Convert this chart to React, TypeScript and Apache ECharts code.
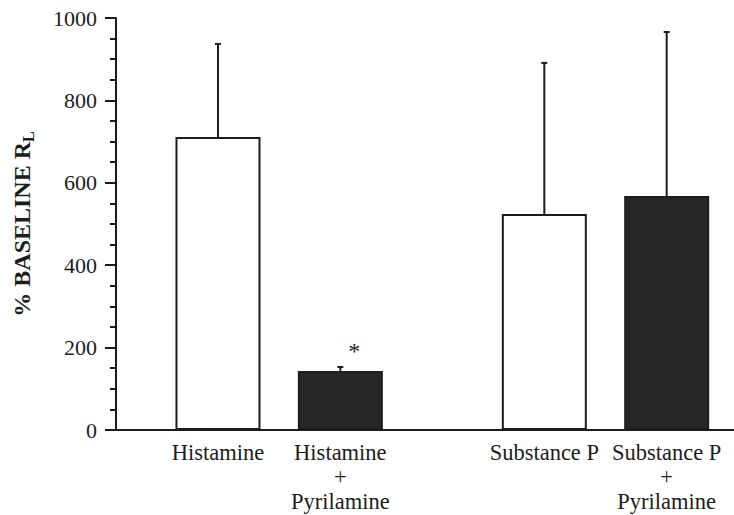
import React, { useEffect, useRef } from "react";
import * as echarts from "echarts";

// Treatment groups and their axis labels
const categories = [
  "Histamine",
  "Histamine\n+\nPyrilamine",
  "Substance P",
  "Substance P\n+\nPyrilamine",
];
// Slot of each bar along the x scale (pairs grouped, wider gap between agonists)
const slots = [0, 3, 8, 11];
// Mean response, % of baseline lung resistance
const means = [711, 143, 524, 568];
// Upper error (SEM)
const errors = [226, 10, 367, 398];
// Pyrilamine pretreatment -> filled bar
const pyrilamine = [false, true, false, true];
// Significance marks
const marks = ["", "*", "", ""];
// Y axis ticks
const yTicks = { min: 0, max: 1000, step: 200 };

const FONT = "'Liberation Serif', 'Times New Roman', serif";
const INK = "#1c1c1c";

export default function App() {
  const ref = useRef<HTMLDivElement>(null);

  useEffect(() => {
    if (!ref.current) return;
    const chart = echarts.init(ref.current, null, { renderer: "svg" });

    const barData = slots.map((s, i) => ({
      value: [s, means[i]],
      itemStyle: {
        color: pyrilamine[i] ? "#262626" : "#ffffff",
        borderColor: INK,
        borderWidth: 2,
      },
    }));

    const errData = slots.map((s, i) => [s, means[i], errors[i]]);

    chart.setOption({
      animation: false,
      backgroundColor: "#ffffff",
      grid: { left: 116, right: 0, top: 18, bottom: 85 },
      xAxis: {
        type: "value",
        min: -2.5,
        max: 12.65,
        splitLine: { show: false },
        axisTick: { show: false },
        axisLine: { show: true, onZero: false, lineStyle: { color: INK, width: 2 } },
        axisLabel: {
          customValues: slots,
          formatter: (v: number) => {
            const idx = slots.indexOf(v);
            return idx >= 0 ? categories[idx] : "";
          },
          color: INK,
          fontFamily: FONT,
          fontSize: 22.5,
          lineHeight: 24.5,
          margin: 10,
          align: "center",
        },
      },
      yAxis: {
        type: "value",
        min: yTicks.min,
        max: yTicks.max,
        interval: yTicks.step,
        splitLine: { show: false },
        axisLine: { show: true, onZero: false, lineStyle: { color: INK, width: 2 } },
        axisTick: { show: true, length: 11, lineStyle: { color: INK, width: 2 } },
        minorTick: { show: true, splitNumber: 4, length: 6, lineStyle: { color: INK, width: 2 } },
        axisLabel: {
          color: INK,
          fontFamily: FONT,
          fontSize: 22,
          margin: 19,
          formatter: (v: number) => String(v),
        },
        name: "% BASELINE R{sub|L}",
        nameLocation: "middle",
        nameGap: 80,
        nameTextStyle: {
          color: INK,
          fontFamily: FONT,
          fontSize: 24,
          fontWeight: "bold",
          lineHeight: 28,
          rich: {
            sub: {
              fontFamily: FONT,
              fontSize: 16,
              fontWeight: "bold",
              lineHeight: 28,
              verticalAlign: "bottom",
              color: INK,
            },
          },
        },
      },
      series: [
        {
          type: "bar",
          data: barData,
          barWidth: 85,
          z: 2,
        },
        {
          type: "custom",
          z: 3,
          data: errData,
          renderItem: (params: any, api: any) => {
            const x = api.value(0);
            const m = api.value(1);
            const e = api.value(2);
            const base = api.coord([x, m]);
            const top = api.coord([x, m + e]);
            const style = { stroke: INK, lineWidth: 2 };
            const children: any[] = [
              { type: "line", shape: { x1: base[0], y1: base[1], x2: top[0], y2: top[1] }, style },
              { type: "line", shape: { x1: top[0] - 3, y1: top[1], x2: top[0] + 3, y2: top[1] }, style },
            ];
            const mark = marks[params.dataIndex];
            if (mark) {
              children.push({
                type: "text",
                x: top[0] + 14,
                y: top[1] - 16,
                style: {
                  text: mark,
                  fill: INK,
                  fontFamily: FONT,
                  fontSize: 24,
                  align: "center",
                  verticalAlign: "middle",
                },
              });
            }
            return { type: "group", children };
          },
        },
      ],
    });

    return () => chart.dispose();
  }, []);

  return (
    <div
      ref={ref}
      style={{ position: "fixed", left: 0, top: 0, width: 734, height: 515 }}
    />
  );
}
